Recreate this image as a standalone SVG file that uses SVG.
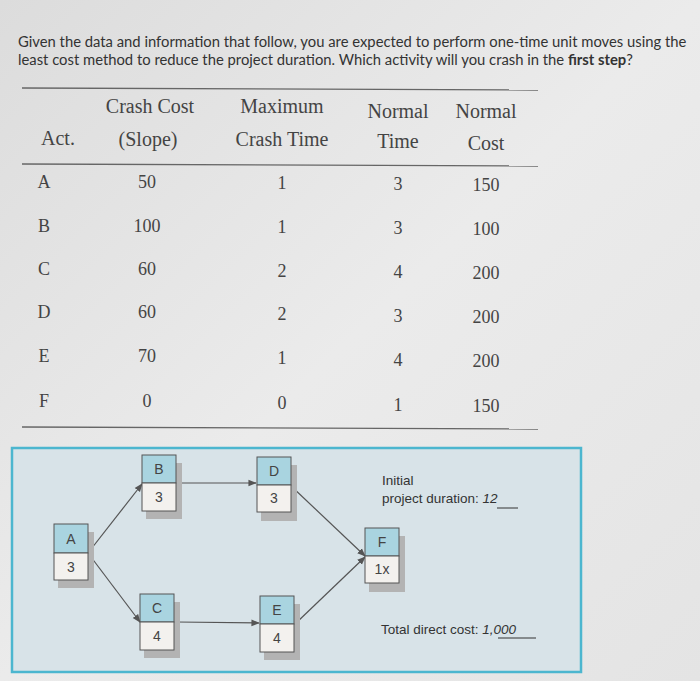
<svg xmlns="http://www.w3.org/2000/svg" width="700" height="681" viewBox="0 0 700 681">
<defs>
<linearGradient id="bg" x1="0" y1="0" x2="1" y2="1"><stop offset="0" stop-color="#dcdcdc"/><stop offset="0.5" stop-color="#ebebeb"/><stop offset="1" stop-color="#e4e4e4"/></linearGradient>
<marker id="ar" viewBox="0 0 10 10" refX="9" refY="5" markerWidth="7" markerHeight="7" orient="auto"><path d="M0,1 L10,5 L0,9 z" fill="#555"/></marker>
</defs>
<style>
.q{font-family:Lato,"Liberation Sans",sans-serif;font-size:14.8px;fill:#333}
.h{font-family:"Liberation Serif",serif;font-size:20px;fill:#444;text-anchor:middle}
.c{font-family:"Liberation Serif",serif;font-size:18px;fill:#444;text-anchor:middle}
.rule{stroke:#666;stroke-width:1.3}
.hd{fill:#a9d4e0;stroke:#555;stroke-width:1}
.bd{fill:#f3f1ee;stroke:#555;stroke-width:1}
.sh{fill:#b3b3b3}
.nt{font-family:"Liberation Sans",sans-serif;font-size:14px;fill:#444;text-anchor:middle}
.lb{font-family:"Liberation Sans",sans-serif;font-size:13.5px;fill:#333}
.cn{stroke:#555;stroke-width:1.2;fill:none;marker-end:url(#ar)}
</style>
<rect width="700" height="681" fill="url(#bg)"/>
<text class="q" x="18" y="47">Given the data and information that follow, you are expected to perform one-time unit moves using the</text>
<text class="q" x="18" y="65">least cost method to reduce the project duration. Which activity will you crash in the <tspan font-weight="bold">first step</tspan>?</text>
<line class="rule" x1="22" y1="88" x2="538" y2="90"/>
<line class="rule" x1="22" y1="164" x2="538" y2="166"/>
<line class="rule" x1="22" y1="427" x2="538" y2="429"/>
<text class="h" x="150" y="113">Crash Cost</text><text class="h" x="148" y="146">(Slope)</text>
<text class="h" x="282" y="113">Maximum</text><text class="h" x="282" y="146">Crash Time</text>
<text class="h" x="398" y="118">Normal</text><text class="h" x="398" y="148">Time</text>
<text class="h" x="486" y="118">Normal</text><text class="h" x="486" y="150">Cost</text>
<text class="h" x="58" y="145">Act.</text>
<g>
<text class="c" x="44" y="188">A</text><text class="c" x="147" y="188">50</text><text class="c" x="282" y="189">1</text><text class="c" x="398" y="190">3</text><text class="c" x="486" y="191">150</text>
<text class="c" x="44" y="232">B</text><text class="c" x="147" y="232">100</text><text class="c" x="282" y="233">1</text><text class="c" x="398" y="234">3</text><text class="c" x="486" y="235">100</text>
<text class="c" x="44" y="275">C</text><text class="c" x="147" y="275">60</text><text class="c" x="282" y="277">2</text><text class="c" x="398" y="278">4</text><text class="c" x="486" y="279">200</text>
<text class="c" x="44" y="318">D</text><text class="c" x="147" y="318">60</text><text class="c" x="282" y="320">2</text><text class="c" x="398" y="322">3</text><text class="c" x="486" y="323">200</text>
<text class="c" x="44" y="362">E</text><text class="c" x="147" y="362">70</text><text class="c" x="282" y="364">1</text><text class="c" x="398" y="366">4</text><text class="c" x="486" y="367">200</text>
<text class="c" x="44" y="407">F</text><text class="c" x="147" y="407">0</text><text class="c" x="282" y="409">0</text><text class="c" x="398" y="411">1</text><text class="c" x="486" y="412">150</text>
</g>
<rect x="12" y="448" width="569" height="224" fill="#d8e3e8" stroke="#4cb6cf" stroke-width="2.5"/>
<g id="connectors">
<path class="cn" d="M88,553 L142,484"/>
<path class="cn" d="M176,483 L256,483"/>
<path class="cn" d="M290,485 L365,556"/>
<path class="cn" d="M88,553 L140,622"/>
<path class="cn" d="M176,622 L259,623"/>
<path class="cn" d="M295,624 L365,557"/>
</g>
<g id="A"><rect class="sh" x="58" y="532" width="36" height="56"/><rect class="hd" x="54" y="524" width="34" height="29"/><rect class="bd" x="54" y="553" width="34" height="27"/><text class="nt" x="71" y="544">A</text><text class="nt" x="71" y="572">3</text></g>
<g id="B"><rect class="sh" x="146" y="463" width="36" height="56"/><rect class="hd" x="142" y="455" width="34" height="28"/><rect class="bd" x="142" y="483" width="34" height="28"/><text class="nt" x="159" y="474">B</text><text class="nt" x="159" y="502">3</text></g>
<g id="D"><rect class="sh" x="261" y="465" width="36" height="56"/><rect class="hd" x="257" y="457" width="34" height="28"/><rect class="bd" x="257" y="485" width="34" height="27"/><text class="nt" x="274" y="476">D</text><text class="nt" x="274" y="503">3</text></g>
<g id="F"><rect class="sh" x="369" y="536" width="36" height="56"/><rect class="hd" x="365" y="528" width="34" height="28"/><rect class="bd" x="365" y="556" width="34" height="27"/><text class="nt" x="382" y="547">F</text><text class="nt" x="382" y="574" font-size="11">1x</text></g>
<g id="C"><rect class="sh" x="144" y="602" width="36" height="56"/><rect class="hd" x="140" y="594" width="34" height="28"/><rect class="bd" x="140" y="622" width="34" height="28"/><text class="nt" x="157" y="613">C</text><text class="nt" x="157" y="641">4</text></g>
<g id="E"><rect class="sh" x="264" y="604" width="36" height="56"/><rect class="hd" x="260" y="596" width="34" height="28"/><rect class="bd" x="260" y="624" width="34" height="28"/><text class="nt" x="277" y="615">E</text><text class="nt" x="277" y="643">4</text></g>
<text class="lb" x="382" y="485">Initial</text>
<text class="lb" x="382" y="503">project duration: <tspan font-style="italic">12</tspan></text>
<line x1="497" y1="508" x2="518" y2="508" stroke="#333" stroke-width="1"/>
<text class="lb" x="381" y="634">Total direct cost: <tspan font-style="italic">1,000</tspan></text>
<line x1="498" y1="638" x2="536" y2="638" stroke="#333" stroke-width="1"/>
</svg>
